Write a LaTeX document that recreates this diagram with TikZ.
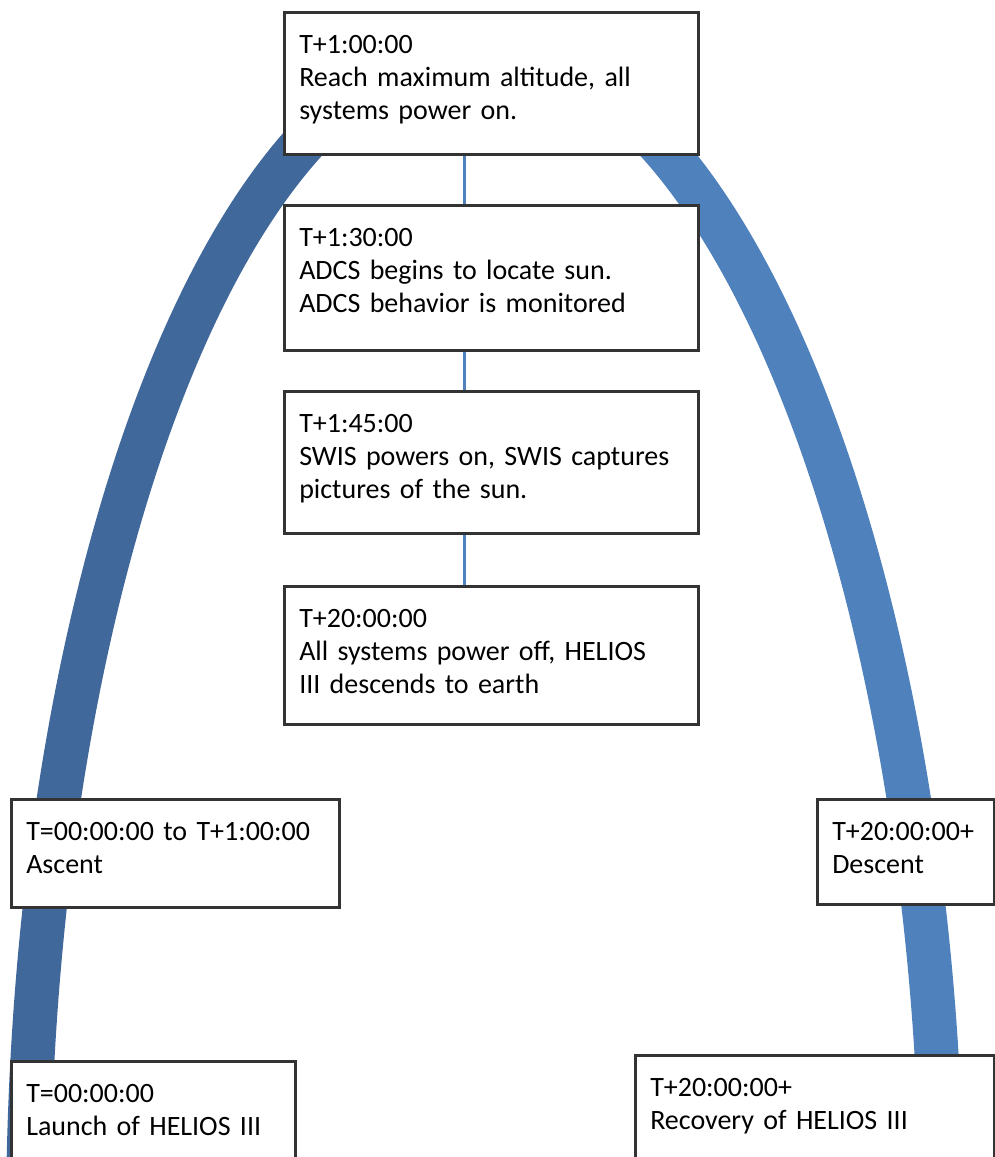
\documentclass[tikz,border=0pt]{standalone}
\usepackage{fontspec}
\setmainfont{Carlito}
\definecolor{arcdark}{RGB}{65,104,155}
\definecolor{arclight}{RGB}{79,129,189}
\hyphenpenalty=10000

\begin{document}
\begin{tikzpicture}[x=1pt,y=-1pt,
        stage/.style={rectangle,draw=black!80,line width=2.5pt,fill=white,anchor=north west,align=left,
            inner xsep=15pt,inner ysep=10pt,text height=31pt,font=\fontsize{28pt}{33pt}\selectfont},
        link/.style={draw=arclight,line width=3pt}]
    \useasboundingbox (0,0) rectangle (995,1157);

    % flight path
    \draw[arcdark,line width=44pt] (28,1224) .. controls (28,575) and (233,48) .. (482,48);
    \draw[arclight,line width=44pt] (482,48) .. controls (725,48) and (940,575) .. (942,1224);

    % mission stages
    \node[stage,text width=384pt,text depth=91pt] (maxalt) at (283,11) {T+1:00:00\\Reach maximum altitude, all\\systems power on.};
    \node[stage,text width=384pt,text depth=94pt] (adcs) at (283,204) {T+1:30:00\\ADCS begins to locate sun.\\ADCS behavior is monitored};
    \node[stage,text width=384pt,text depth=91pt] (swis) at (283,390) {T+1:45:00\\SWIS powers on, SWIS captures\\pictures of the sun.};
    \node[stage,text width=384pt,text depth=87pt] (poweroff) at (283,585) {T+20:00:00\\All systems power off, HELIOS\\III descends to earth};

    \node[stage,text width=298pt,text depth=57pt] (ascent) at (10,798) {T=00:00:00 to T+1:00:00\\Ascent};
    \node[stage,text width=147pt,text depth=54pt] (descent) at (816,798) {T+20:00:00+\\Descent};
    \node[stage,text width=254pt,text depth=70pt] (launch) at (10,1060) {T=00:00:00\\Launch of HELIOS III};
    \node[stage,text width=329pt,text depth=70pt] (recovery) at (634,1054) {T+20:00:00+\\Recovery of HELIOS III};

    \draw[link] ([xshift=-27pt]maxalt.south) -- ([xshift=-27pt]adcs.north);
    \draw[link] ([xshift=-27pt]adcs.south) -- ([xshift=-27pt]swis.north);
    \draw[link] ([xshift=-27pt]swis.south) -- ([xshift=-27pt]poweroff.north);
\end{tikzpicture}
\end{document}
